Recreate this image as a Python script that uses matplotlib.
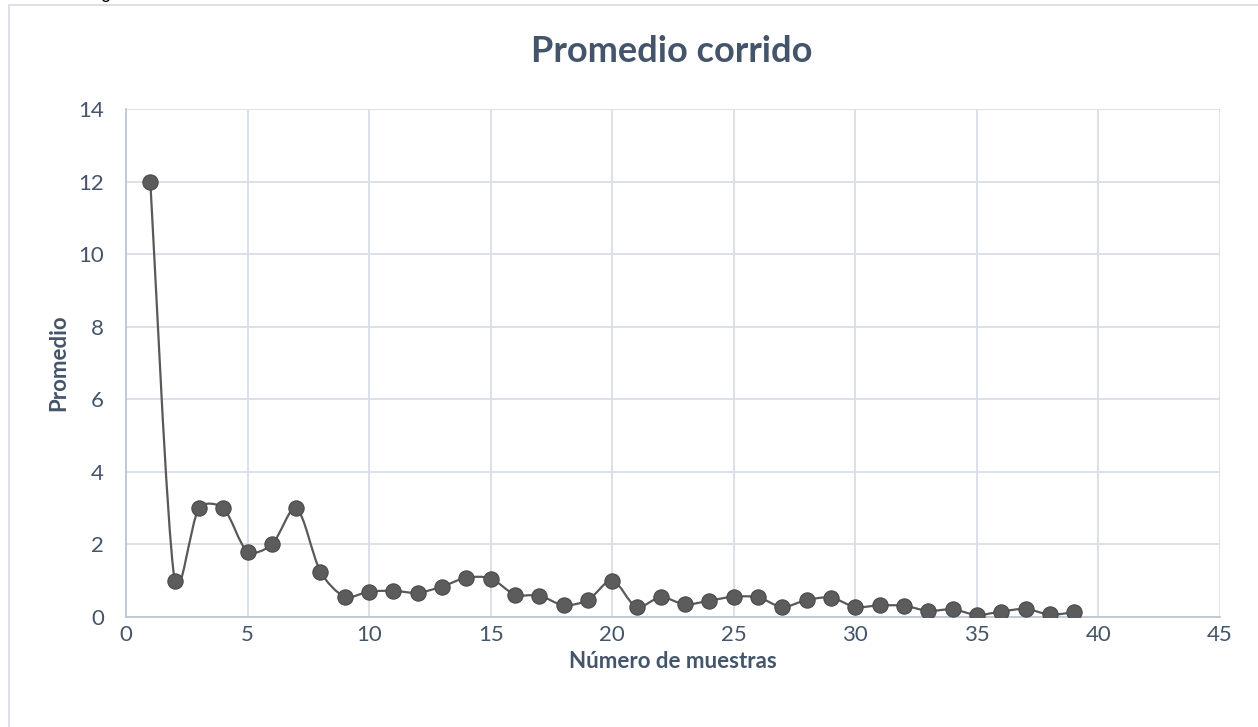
import matplotlib
matplotlib.use("Agg")
import matplotlib.pyplot as plt
from matplotlib.path import Path
from matplotlib.patches import PathPatch, Rectangle
import numpy as np

plt.rcParams['font.family'] = ['Lato', 'DejaVu Sans']

# promedio corrido por numero de muestra
muestras = list(range(1, 40))
promedio = [12.0, 1.0, 3.0, 3.0, 1.8, 2.0, 3.0, 1.25, 0.56, 0.70,
            0.72, 0.67, 0.84, 1.08, 1.06, 0.62, 0.59, 0.33, 0.47, 1.0,
            0.28, 0.54, 0.35, 0.45, 0.56, 0.54, 0.28, 0.47, 0.53, 0.28,
            0.32, 0.31, 0.17, 0.21, 0.06, 0.15, 0.22, 0.07, 0.13]

x_ticks = [0, 5, 10, 15, 20, 25, 30, 35, 40, 45]
y_ticks = [0, 2, 4, 6, 8, 10, 12, 14]

texto = '#44546A'
rejilla = '#D9DEE7'
gris = '#595959'


def linea_suave(xs, ys, sx, sy):
    # curva suavizada: bezier cubica con tangentes tipo catmull-rom,
    # acortadas en los tramos cortos (en pixeles) para no pasarse tanto
    pts = np.column_stack([xs, ys]).astype(float)
    esc = np.array([sx, sy])
    n = len(pts)

    def largo(a, b):
        return np.hypot(*((b - a) * esc))

    def factor(d, otro):
        return max(0.6, min(1.0, 2 * d / (d + otro)))

    verts = [pts[0]]
    codes = [Path.MOVETO]
    for i in range(n - 1):
        p0 = pts[i - 1] if i > 0 else pts[i]
        p1 = pts[i]
        p2 = pts[i + 1]
        p3 = pts[i + 2] if i + 2 < n else pts[i + 1]
        d01, d12, d23 = largo(p0, p1), largo(p1, p2), largo(p2, p3)
        f1 = factor(d12, d01) if d01 > 0 else 1.0
        f2 = factor(d12, d23) if d23 > 0 else 1.0
        c1 = p1 + (p2 - p0) / 6.0 * f1
        c2 = p2 - (p3 - p1) / 6.0 * f2
        verts += [c1, c2, p2]
        codes += [Path.CURVE4] * 3
    return Path(verts, codes)


fig = plt.figure(figsize=(12.58, 7.27), dpi=100)
ax = fig.add_axes([126 / 1258, 1 - 617 / 727, (1220 - 126) / 1258, (617 - 109) / 727])

# marco del grafico
fig.patches.append(Rectangle((9 / 1258, -0.01), 1.2, 1 - 5 / 727 + 0.01,
                             transform=fig.transFigure, fill=False,
                             edgecolor='#D9DEE7', linewidth=1.3))
fig.text(100 / 1258, 1 + 1.5 / 727, 'g', fontsize=13, color='black', va='baseline',
         family=['Liberation Sans', 'DejaVu Sans'])

sx = (1220 - 126) / 45.0
sy = (617 - 109) / 14.0
ax.add_patch(PathPatch(linea_suave(muestras, promedio, sx, sy), fill=False,
                       edgecolor=gris, linewidth=1.6, zorder=3))
ax.plot(muestras, promedio, linestyle='none', marker='o', markersize=11,
        markerfacecolor='#5c5c5c', markeredgecolor='#4a4a4a', markeredgewidth=0.8,
        zorder=4)

ax.set_xlim(0, 45)
ax.set_ylim(0, 14)
ax.set_xticks(x_ticks)
ax.set_yticks(y_ticks)
ax.grid(True, color=rejilla, linewidth=1.3)
ax.set_axisbelow(True)
for s in ['top', 'right']:
    ax.spines[s].set_visible(False)
for s in ['left', 'bottom']:
    ax.spines[s].set_color('#BCC6D6')
    ax.spines[s].set_linewidth(1.3)
ax.tick_params(length=0, labelsize=16, colors=texto)
ax.tick_params(axis='x', pad=6)
ax.tick_params(axis='y', pad=16)

ax.set_xlabel('Número de muestras', fontsize=16, fontweight='bold', color=texto, labelpad=4)
ax.set_ylabel('Promedio', fontsize=16, fontweight='bold', color=texto, labelpad=6)
fig.text(672 / 1258, 1 - 51 / 727, 'Promedio corrido', fontsize=26, fontweight='bold',
         color=texto, ha='center', va='center')

fig.savefig('out.png', dpi=100)
